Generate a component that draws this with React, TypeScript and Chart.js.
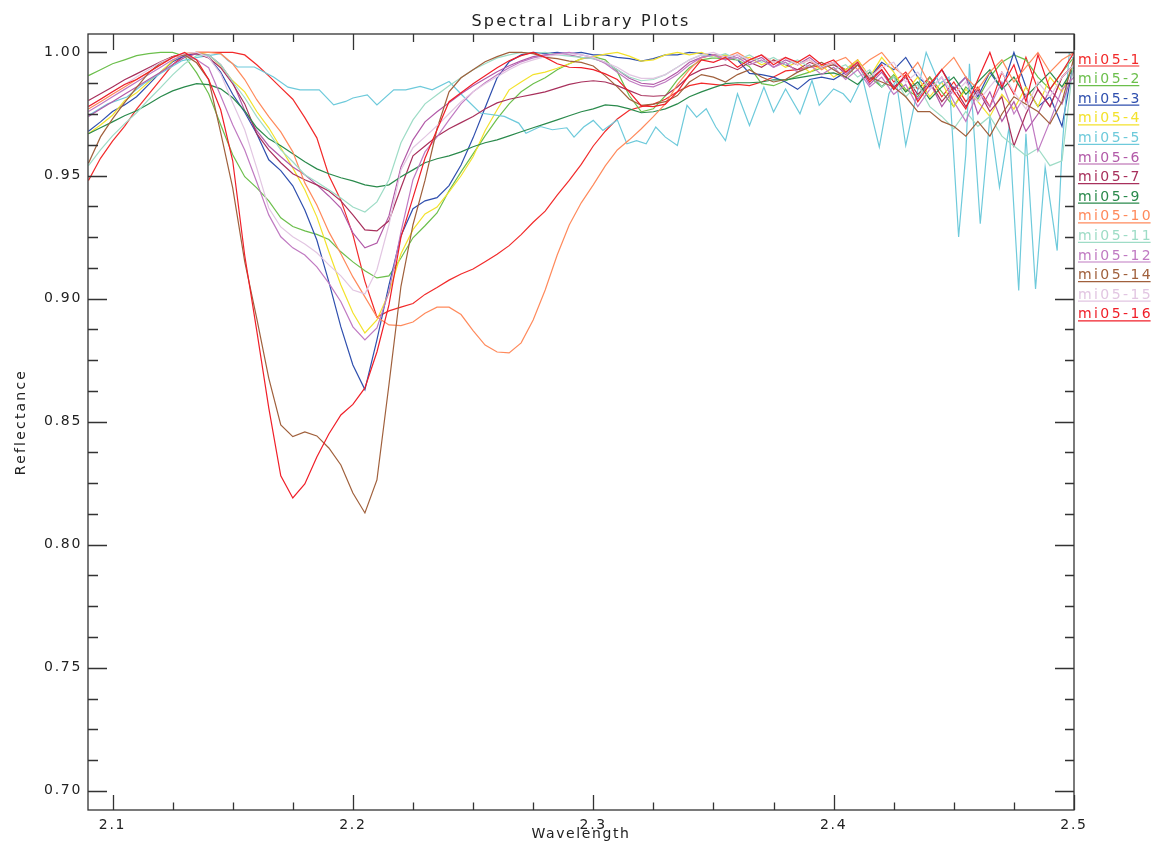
import { useEffect, useRef } from "react";
import { Chart, registerables } from "chart.js";

Chart.register(...registerables);

// Wavelength grid (micrometres) shared by most spectra
const wavelength = [
  2.090, 2.095, 2.100, 2.105, 2.110, 2.115, 2.120, 2.125, 2.130, 2.135,
  2.140, 2.145, 2.150, 2.155, 2.160, 2.165, 2.170, 2.175, 2.180, 2.185,
  2.190, 2.195, 2.200, 2.205, 2.210, 2.215, 2.220, 2.225, 2.230, 2.235,
  2.240, 2.245, 2.250, 2.255, 2.260, 2.265, 2.270, 2.275, 2.280, 2.285,
  2.290, 2.295, 2.300, 2.305, 2.310, 2.315, 2.320, 2.325, 2.330, 2.335,
  2.340, 2.345, 2.350, 2.355, 2.360, 2.365, 2.370, 2.375, 2.380, 2.385,
  2.390, 2.395, 2.400, 2.405, 2.410, 2.415, 2.420, 2.425, 2.430, 2.435,
  2.440, 2.445, 2.450, 2.455, 2.460, 2.465, 2.470, 2.475, 2.480, 2.485,
  2.490, 2.495, 2.500,
];

const mi05_1 = [
  0.948, 0.957, 0.964, 0.970, 0.977, 0.983, 0.989, 0.995, 0.999, 1.000,
  1.000, 1.000, 1.000, 0.999, 0.995, 0.9905, 0.9857, 0.981, 0.9735, 0.9653,
  0.950, 0.940, 0.926, 0.907, 0.8925, 0.895, 0.8965, 0.898, 0.9017, 0.9045,
  0.9075, 0.910, 0.912, 0.915, 0.918, 0.9215, 0.926, 0.931, 0.9355, 0.942,
  0.948, 0.9545, 0.962, 0.968, 0.973, 0.9765, 0.978, 0.979, 0.981, 0.984,
  0.9865, 0.9875, 0.987, 0.9865, 0.987, 0.9865, 0.988, 0.990, 0.9925, 0.993,
  0.994, 0.9945, 0.996, 0.993, 0.997, 0.990, 0.995, 0.988, 0.992, 0.985,
  0.990, 0.982, 0.988, 0.980, 0.986, 0.978, 0.992, 0.983, 0.998, 0.985,
  0.978, 0.990, 0.995,
];

const mi05_2 = [
  0.9906, 0.993, 0.9954, 0.997, 0.9987, 0.9995, 1.000, 1.000, 0.9985, 0.9917,
  0.9832, 0.9706, 0.9584, 0.9495, 0.945, 0.9397, 0.9328, 0.9293, 0.9275, 0.9261,
  0.924, 0.919, 0.9149, 0.9113, 0.9084, 0.9092, 0.9165, 0.9247, 0.9296, 0.9348,
  0.9438, 0.9515, 0.9588, 0.9661, 0.973, 0.9791, 0.984, 0.9873, 0.9897, 0.993,
  0.9954, 0.9974, 0.9983, 0.997, 0.9922, 0.9824, 0.9759, 0.9771, 0.9824, 0.9889,
  0.9938, 0.997, 0.9978, 0.9974, 0.997, 0.9942, 0.9873, 0.9865, 0.9885, 0.9905,
  0.992, 0.9937, 0.995, 0.993, 0.996, 0.990, 0.986, 0.991, 0.985, 0.982,
  0.990, 0.984, 0.978, 0.986, 0.981, 0.990, 0.996, 0.999, 0.997, 0.990,
  0.985, 0.992, 0.998,
];

const mi05_3 = [
  0.968, 0.9718, 0.976, 0.9787, 0.982, 0.9869, 0.992, 0.9962, 0.9987, 0.9995,
  0.998, 0.992, 0.983, 0.9757, 0.967, 0.9564, 0.952, 0.9458, 0.936, 0.9238,
  0.9068, 0.8885, 0.873, 0.863, 0.8832, 0.9055, 0.9255, 0.9365, 0.9397, 0.941,
  0.9459, 0.9543, 0.9653, 0.9775, 0.9897, 0.9962, 0.999, 1.000, 0.9995, 1.000,
  0.9995, 1.000, 0.999, 0.999, 0.998, 0.9975, 0.9965, 0.9975, 0.999, 0.999,
  1.000, 0.9995, 0.999, 0.9985, 0.997, 0.9915, 0.991, 0.990, 0.988, 0.985,
  0.989, 0.990, 0.989, 0.992, 0.995, 0.990, 0.996, 0.993, 0.998, 0.990,
  0.986, 0.993, 0.985, 0.990, 0.982, 0.992, 0.985, 1.000, 0.986, 0.978,
  0.982, 0.970, 0.997,
];

const mi05_4 = [
  0.967, 0.9705, 0.9745, 0.9804, 0.9836, 0.988, 0.992, 0.9966, 0.9995, 1.000,
  0.999, 0.9946, 0.9885, 0.984, 0.976, 0.9694, 0.9613, 0.9531, 0.9442, 0.9332,
  0.919, 0.9055, 0.8942, 0.886, 0.8913, 0.9023, 0.9182, 0.928, 0.9344, 0.9372,
  0.9434, 0.9499, 0.9576, 0.9682, 0.9767, 0.9848, 0.988, 0.991, 0.992, 0.9936,
  0.9954, 0.9974, 0.9983, 0.9993, 1.000, 0.9985, 0.9965, 0.997, 0.999, 1.000,
  0.999, 1.000, 0.998, 0.999, 0.997, 0.998, 0.995, 0.997, 0.994, 0.996,
  0.992, 0.995, 0.990, 0.993, 0.997, 0.990, 0.998, 0.992, 0.984, 0.990,
  0.982, 0.988, 0.978, 0.985, 0.980, 0.974, 0.983, 0.977, 0.986, 0.978,
  0.990, 0.984, 0.996,
];

// mi05-5 is sampled on its own, finer wavelength list
const cyanWavelength = [
  2.090, 2.098, 2.106, 2.113, 2.122, 2.129, 2.136, 2.145, 2.148, 2.152,
  2.159, 2.167, 2.173, 2.178, 2.186, 2.192, 2.197, 2.200, 2.206, 2.210,
  2.217, 2.222, 2.228, 2.233, 2.240, 2.246, 2.253, 2.263, 2.269, 2.272,
  2.278, 2.283, 2.289, 2.292, 2.296, 2.300, 2.304, 2.310, 2.314, 2.318,
  2.322, 2.326, 2.330, 2.335, 2.339, 2.343, 2.347, 2.351, 2.355, 2.360,
  2.365, 2.371, 2.375, 2.380, 2.386, 2.391, 2.394, 2.400, 2.404, 2.407,
  2.412, 2.419, 2.423, 2.426, 2.430, 2.434, 2.4385, 2.444, 2.448, 2.452,
  2.455, 2.4565, 2.461, 2.465, 2.469, 2.473, 2.477, 2.480, 2.484, 2.488,
  2.493, 2.495, 2.498, 2.500,
];

const mi05_5 = [
  0.9744, 0.9791, 0.9819, 0.9873, 0.9927, 0.9967, 0.9981, 0.9995, 0.9967, 0.9941,
  0.9941, 0.990, 0.9859, 0.9848, 0.9848, 0.9787, 0.9801, 0.9815, 0.9828, 0.9787,
  0.9848, 0.9848, 0.9862, 0.9848, 0.9882, 0.9821, 0.9754, 0.974, 0.9713, 0.9672,
  0.9699, 0.9686, 0.9694, 0.9656, 0.9697, 0.9724, 0.9683, 0.9726, 0.9629, 0.9642,
  0.9629, 0.9697, 0.9656, 0.9622, 0.9785, 0.9737, 0.9771, 0.9697, 0.9642, 0.9832,
  0.9703, 0.9859, 0.9758, 0.9852, 0.9751, 0.9886, 0.9785, 0.9852, 0.9832, 0.9798,
  0.9897, 0.9615, 0.9832, 0.9886, 0.9622, 0.9805, 1.000, 0.9873, 0.990, 0.925,
  0.9588, 0.9954, 0.9304, 0.9737, 0.9453, 0.9697, 0.9033, 0.967, 0.9039, 0.9534,
  0.9195, 0.9602, 0.9995, 0.997,
];

const mi05_6 = [
  0.974, 0.977, 0.980, 0.983, 0.986, 0.989, 0.992, 0.995, 0.998, 0.9995,
  0.999, 0.995, 0.988, 0.9763, 0.9682, 0.962, 0.9576, 0.9535, 0.9503, 0.9462,
  0.9417, 0.9368, 0.9267, 0.9206, 0.9226, 0.9336, 0.9535, 0.9645, 0.9718, 0.9759,
  0.9796, 0.9832, 0.9865, 0.9893, 0.9922, 0.9946, 0.9966, 0.9983, 0.999, 0.9995,
  0.999, 0.998, 0.9975, 0.996, 0.993, 0.9895, 0.9875, 0.987, 0.989, 0.992,
  0.996, 0.998, 0.999, 0.997, 0.999, 0.996, 0.998, 0.994, 0.997, 0.995,
  0.998, 0.994, 0.996, 0.991, 0.995, 0.987, 0.992, 0.985, 0.990, 0.981,
  0.988, 0.978, 0.985, 0.990, 0.975, 0.984, 0.972, 0.980, 0.968, 0.975,
  0.985, 0.979, 0.993,
];

const mi05_7 = [
  0.9805, 0.9832, 0.986, 0.9889, 0.9913, 0.9938, 0.9962, 0.9983, 0.9995, 0.9995,
  0.9978, 0.9938, 0.9873, 0.9791, 0.967, 0.9604, 0.9552, 0.9507, 0.9483, 0.9462,
  0.9437, 0.9397, 0.934, 0.9279, 0.9275, 0.9316, 0.945, 0.958, 0.962, 0.966,
  0.969, 0.9715, 0.974, 0.977, 0.9795, 0.981, 0.982, 0.983, 0.984, 0.9855,
  0.987, 0.988, 0.9885, 0.988, 0.9865, 0.9845, 0.9825, 0.9822, 0.9825, 0.986,
  0.9905, 0.993, 0.994, 0.995, 0.993, 0.996, 0.994, 0.997, 0.995, 0.993,
  0.996, 0.994, 0.995, 0.992, 0.996, 0.989, 0.993, 0.986, 0.990, 0.983,
  0.988, 0.980, 0.986, 0.978, 0.985, 0.976, 0.982, 0.962, 0.975, 0.985,
  0.978, 0.990, 0.995,
];

const mi05_9 = [
  0.967, 0.9694, 0.9718, 0.9743, 0.9763, 0.9791, 0.982, 0.9844, 0.986, 0.9873,
  0.9869, 0.9852, 0.9816, 0.9763, 0.9694, 0.9649, 0.9621, 0.9588, 0.9556, 0.9527,
  0.9507, 0.9491, 0.9478, 0.9462, 0.9454, 0.9462, 0.9495, 0.9523, 0.9552, 0.9568,
  0.958, 0.9596, 0.9617, 0.9633, 0.9645, 0.9661, 0.9678, 0.9694, 0.971, 0.9726,
  0.9743, 0.9759, 0.9771, 0.9787, 0.9783, 0.9771, 0.9755, 0.9759, 0.9771, 0.9791,
  0.982, 0.984, 0.9857, 0.9873, 0.9877, 0.9877, 0.988, 0.9889, 0.9889, 0.9897,
  0.9905, 0.9913, 0.9917, 0.990, 0.987, 0.992, 0.986, 0.990, 0.984, 0.988,
  0.981, 0.986, 0.990, 0.983, 0.988, 0.993, 0.985, 0.990, 0.982, 0.987,
  0.992, 0.986, 0.994,
];

const mi05_10 = [
  0.977, 0.980, 0.983, 0.986, 0.989, 0.992, 0.995, 0.998, 0.9995, 1.000,
  1.000, 0.9995, 0.9954, 0.989, 0.9808, 0.9739, 0.9677, 0.9596, 0.947, 0.938,
  0.9271, 0.9182, 0.9088, 0.9007, 0.8925, 0.8893, 0.889, 0.8905, 0.894, 0.8965,
  0.8965, 0.8935, 0.887, 0.8811, 0.8783, 0.8779, 0.882, 0.8913, 0.9035, 0.9177,
  0.9299, 0.9389, 0.9462, 0.9539, 0.9604, 0.9645, 0.969, 0.9739, 0.9791, 0.9869,
  0.993, 0.9978, 0.999, 0.998, 1.000, 0.997, 0.999, 0.996, 0.998, 0.995,
  0.997, 0.993, 0.996, 0.998, 0.993, 0.997, 1.000, 0.994, 0.990, 0.996,
  0.987, 0.993, 0.998, 0.990, 0.985, 0.992, 0.997, 0.988, 0.994, 1.000,
  0.992, 0.997, 1.000,
];

const mi05_11 = [
  0.954, 0.9604, 0.9661, 0.971, 0.9755, 0.9808, 0.9857, 0.9909, 0.9954, 0.9987,
  0.999, 0.995, 0.9881, 0.9816, 0.9739, 0.9674, 0.9604, 0.9556, 0.9503, 0.9474,
  0.9442, 0.9409, 0.9372, 0.9352, 0.9393, 0.9483, 0.9633, 0.9726, 0.9791, 0.9828,
  0.9865, 0.9897, 0.993, 0.9954, 0.9978, 0.999, 1.000, 0.9995, 1.000, 0.999,
  0.9985, 0.998, 0.9975, 0.996, 0.993, 0.990, 0.9885, 0.989, 0.991, 0.994,
  0.997, 0.999, 0.998, 0.9995, 0.997, 0.999, 0.996, 0.998, 0.995, 0.997,
  0.994, 0.996, 0.993, 0.995, 0.990, 0.993, 0.986, 0.990, 0.982, 0.987,
  0.978, 0.974, 0.969, 0.976, 0.970, 0.974, 0.966, 0.962, 0.958, 0.961,
  0.954, 0.956, 0.998,
];

const mi05_12 = [
  0.976, 0.979, 0.982, 0.985, 0.988, 0.991, 0.994, 0.997, 0.999, 0.997,
  0.9938, 0.9824, 0.9706, 0.9604, 0.9474, 0.934, 0.9251, 0.9206, 0.9177, 0.9129,
  0.9063, 0.8987, 0.8885, 0.8832, 0.8881, 0.9027, 0.9271, 0.9483, 0.9596, 0.9657,
  0.9726, 0.9791, 0.984, 0.9877, 0.9909, 0.9938, 0.9962, 0.9978, 0.9987, 0.9995,
  1.000, 0.999, 0.998, 0.9955, 0.992, 0.9885, 0.9865, 0.986, 0.988, 0.991,
  0.995, 0.998, 0.999, 0.997, 0.998, 0.995, 0.997, 0.994, 0.996, 0.992,
  0.995, 0.991, 0.994, 0.989, 0.993, 0.986, 0.990, 0.983, 0.987, 0.978,
  0.985, 0.990, 0.980, 0.972, 0.984, 0.978, 0.988, 0.975, 0.983, 0.960,
  0.972, 0.985, 0.990,
];

const mi05_14 = [
  0.955, 0.9657, 0.973, 0.9796, 0.9857, 0.9917, 0.9958, 0.9983, 0.999, 0.9958,
  0.989, 0.9674, 0.945, 0.915, 0.892, 0.8677, 0.8487, 0.8439, 0.8458, 0.8442,
  0.8393, 0.8324, 0.821, 0.8129, 0.8263, 0.865, 0.905, 0.930, 0.948, 0.969,
  0.984, 0.9897, 0.993, 0.9962, 0.9983, 1.000, 1.000, 0.9995, 0.998, 0.9975,
  0.9965, 0.996, 0.9945, 0.9905, 0.986, 0.981, 0.9785, 0.979, 0.980, 0.9825,
  0.988, 0.991, 0.990, 0.988, 0.991, 0.993, 0.990, 0.988, 0.989, 0.992,
  0.994, 0.996, 0.993, 0.990, 0.995, 0.990, 0.988, 0.986, 0.982, 0.976,
  0.976, 0.972, 0.970, 0.966, 0.972, 0.966, 0.975, 0.982, 0.979, 0.976,
  0.971, 0.980, 0.998,
];

const mi05_15 = [
  0.978, 0.981, 0.984, 0.987, 0.990, 0.993, 0.996, 0.998, 0.9995, 1.000,
  0.998, 0.9913, 0.9796, 0.9686, 0.9531, 0.9368, 0.9291, 0.9251, 0.9222, 0.9186,
  0.9137, 0.9092, 0.9035, 0.9019, 0.9117, 0.930, 0.9523, 0.9613, 0.9657, 0.9702,
  0.9751, 0.980, 0.984, 0.9873, 0.9901, 0.993, 0.9954, 0.997, 0.9983, 0.999,
  0.9995, 0.999, 0.998, 0.996, 0.994, 0.991, 0.9895, 0.9895, 0.991, 0.994,
  0.997, 0.999, 1.000, 0.998, 0.999, 0.997, 0.999, 0.996, 0.998, 0.995,
  0.997, 0.994, 0.996, 0.992, 0.996, 0.990, 0.994, 0.996, 0.988, 0.992,
  0.985, 0.990, 0.983, 0.988, 0.980, 0.986, 0.992, 0.984, 0.977, 0.988,
  0.982, 0.990, 0.995,
];

const mi05_16 = [
  0.978, 0.981, 0.984, 0.987, 0.989, 0.992, 0.995, 0.998, 1.000, 0.997,
  0.989, 0.9767, 0.956, 0.9175, 0.887, 0.8556, 0.828, 0.819, 0.8247, 0.8356,
  0.845, 0.8527, 0.857, 0.8637, 0.8783, 0.8974, 0.925, 0.941, 0.957, 0.9686,
  0.980, 0.9836, 0.9873, 0.9905, 0.9938, 0.9966, 0.9987, 1.000, 0.998, 0.9954,
  0.994, 0.9938, 0.993, 0.9913, 0.989, 0.984, 0.9783, 0.978, 0.979, 0.984,
  0.991, 0.997, 0.996, 0.998, 0.994, 0.997, 0.999, 0.995, 0.998, 0.996,
  0.999, 0.995, 0.997, 0.992, 0.996, 0.988, 0.993, 0.985, 0.991, 0.980,
  0.987, 0.993, 0.984, 0.977, 0.989, 1.000, 0.986, 0.995, 0.980, 0.999,
  0.985, 0.992, 1.000,
];

const seriesNames = [
  "mi05-1", "mi05-2", "mi05-3", "mi05-4", "mi05-5", "mi05-6", "mi05-7",
  "mi05-9", "mi05-10", "mi05-11", "mi05-12", "mi05-14", "mi05-15", "mi05-16",
];
const seriesValues = [
  mi05_1, mi05_2, mi05_3, mi05_4, mi05_5, mi05_6, mi05_7,
  mi05_9, mi05_10, mi05_11, mi05_12, mi05_14, mi05_15, mi05_16,
];
const seriesWavelengths = [
  wavelength, wavelength, wavelength, wavelength, cyanWavelength, wavelength, wavelength,
  wavelength, wavelength, wavelength, wavelength, wavelength, wavelength, wavelength,
];
const seriesColors = [
  "#f22a2a", "#6cbf4c", "#2f4fae", "#f3e22c", "#6ecadb", "#b25aa8", "#a8305c",
  "#2a8a4c", "#ff8a5c", "#9edcc6", "#c07ac2", "#a0603c", "#e2c6e2", "#f01e28",
];

const xTickValues = [2.1, 2.2, 2.3, 2.4, 2.5];
const yTickValues = [0.7, 0.75, 0.8, 0.85, 0.9, 0.95, 1.0];

const chartTitle = "Spectral Library Plots";
const xAxisTitle = "Wavelength";
const yAxisTitle = "Reflectance";

const X_MIN = 2.0898;
const X_MAX = 2.5;
const Y_MIN = 0.6922;
const Y_MAX = 1.0075;

const FONT = '"DejaVu Sans", "Liberation Sans", sans-serif';
const AXIS_COLOR = "#333333";
const TEXT_COLOR = "#222222";

export default function App() {
  const canvasRef = useRef<HTMLCanvasElement | null>(null);

  useEffect(() => {
    const canvas = canvasRef.current;
    if (!canvas) return;

    const datasets = seriesNames.map((name, k) => {
      const xs = seriesWavelengths[k];
      const ys = seriesValues[k];
      return {
        label: name,
        data: xs.map((x, i) => ({ x, y: ys[i] })),
        borderColor: seriesColors[k],
        backgroundColor: seriesColors[k],
        borderWidth: 1.2,
        pointRadius: 0,
        fill: false,
        tension: 0,
        order: seriesNames.length - 1 - k,
      };
    });

    const framePlugin = {
      id: "idlFrame",
      beforeDraw(chart: any) {
        chart.ctx.letterSpacing = "1.7px";
      },
      afterDraw(chart: any) {
        const ctx = chart.ctx as CanvasRenderingContext2D;
        const { left, right, top, bottom } = chart.chartArea;
        const xs = chart.scales.x;
        const ys = chart.scales.y;
        ctx.save();
        ctx.strokeStyle = AXIS_COLOR;
        ctx.lineWidth = 1.3;
        ctx.strokeRect(left, top, right - left, bottom - top);

        // x ticks (bottom and top, drawn inward), major every 0.1, minor every 0.025
        ctx.beginPath();
        for (let k = 0; k <= 16; k++) {
          const v = xTickValues[0] + k * 0.025;
          if (v > X_MAX + 1e-9) break;
          const px = Math.round(xs.getPixelForValue(v)) + 0.5;
          const major = k % 4 === 0;
          ctx.moveTo(px, bottom);
          ctx.lineTo(px, bottom - (major ? 15 : 7.5));
          ctx.moveTo(px, top);
          ctx.lineTo(px, top + (major ? 16 : 8));
        }
        // y ticks (left and right, drawn inward), major every 0.05, minor every 0.0125
        for (let k = 0; k <= 24; k++) {
          const v = yTickValues[0] + k * 0.0125;
          if (v > Y_MAX) break;
          const py = Math.round(ys.getPixelForValue(v)) + 0.5;
          const major = k % 4 === 0;
          ctx.moveTo(left, py);
          ctx.lineTo(left + (major ? 19 : 10), py);
          ctx.moveTo(right, py);
          ctx.lineTo(right - (major ? 19 : 9), py);
        }
        ctx.stroke();

        // Titles
        ctx.fillStyle = TEXT_COLOR;
        ctx.textAlign = "center";
        ctx.textBaseline = "alphabetic";
        ctx.font = `16px ${FONT}`;
        ctx.letterSpacing = "2.2px";
        ctx.fillText(chartTitle, (left + right) / 2, 26);

        ctx.font = `14px ${FONT}`;
        ctx.letterSpacing = "1.6px";
        ctx.fillText(xAxisTitle, (left + right) / 2, 838);

        ctx.save();
        ctx.translate(25, (top + bottom) / 2);
        ctx.rotate(-Math.PI / 2);
        ctx.letterSpacing = "2.2px";
        ctx.fillText(yAxisTitle, 0, 0);
        ctx.restore();

        // Legend: coloured, underlined names to the right of the plot
        ctx.font = `14px ${FONT}`;
        ctx.letterSpacing = "2.4px";
        ctx.textAlign = "left";
        const lx = right + 4;
        seriesNames.forEach((name, k) => {
          const by = 63.5 + k * 19.6;
          ctx.fillStyle = seriesColors[k];
          ctx.fillText(name, lx, by);
          const w = ctx.measureText(name).width - 2.4;
          ctx.strokeStyle = seriesColors[k];
          ctx.lineWidth = 1.2;
          ctx.beginPath();
          ctx.moveTo(lx, by + 2.5);
          ctx.lineTo(lx + w, by + 2.5);
          ctx.stroke();
        });
        ctx.restore();
        ctx.letterSpacing = "0px";
      },
    };

    const chart = new Chart(canvas, {
      type: "line",
      data: { datasets: datasets as any },
      options: {
        animation: false,
        responsive: false,
        maintainAspectRatio: false,
        devicePixelRatio: 1,
        layout: { padding: { top: 34, right: 83, left: 0, bottom: 0 } },
        plugins: {
          legend: { display: false },
          tooltip: { enabled: false },
          title: { display: false },
        },
        elements: { point: { radius: 0 }, line: { tension: 0 } },
        scales: {
          x: {
            type: "linear",
            min: X_MIN,
            max: X_MAX,
            afterFit: (s: any) => {
              s.height = 35;
            },
            grid: { display: false, drawTicks: false },
            border: { display: false },
            afterBuildTicks: (s: any) => {
              s.ticks = xTickValues.map((v) => ({ value: v }));
            },
            ticks: {
              padding: 7,
              color: TEXT_COLOR,
              font: { family: FONT, size: 14 },
              maxRotation: 0,
              autoSkip: false,
              callback: (v: any) => Number(v).toFixed(1),
            },
          },
          y: {
            type: "linear",
            min: Y_MIN,
            max: Y_MAX,
            afterFit: (s: any) => {
              s.width = 88;
            },
            grid: { display: false, drawTicks: false },
            border: { display: false },
            afterBuildTicks: (s: any) => {
              s.ticks = yTickValues.map((v) => ({ value: v }));
            },
            ticks: {
              padding: 6,
              color: TEXT_COLOR,
              font: { family: FONT, size: 14 },
              autoSkip: false,
              callback: (v: any) => Number(v).toFixed(2),
            },
          },
        },
      } as any,
      plugins: [framePlugin],
    });

    return () => chart.destroy();
  }, []);

  return (
    <div style={{ position: "absolute", left: 0, top: 0, width: 1157, height: 845, background: "#ffffff" }}>
      <canvas ref={canvasRef} width={1157} height={845} style={{ display: "block", width: 1157, height: 845 }} />
    </div>
  );
}
